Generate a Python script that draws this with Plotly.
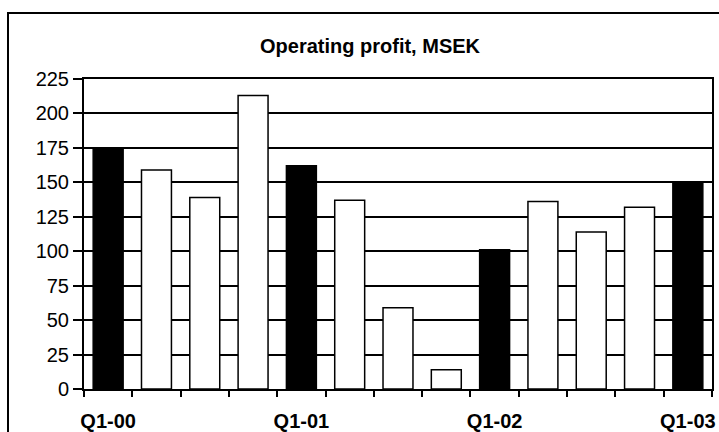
import plotly.graph_objects as go

quarters = ["Q1-00", "Q2-00", "Q3-00", "Q4-00",
            "Q1-01", "Q2-01", "Q3-01", "Q4-01",
            "Q1-02", "Q2-02", "Q3-02", "Q4-02",
            "Q1-03"]
profit = [175, 159, 139, 213, 162, 137, 59, 14, 101, 136, 114, 132, 150]
tick_labels = [q if q.startswith("Q1") else "" for q in quarters]
y_ticks = [0, 25, 50, 75, 100, 125, 150, 175, 200, 225]

colors = ["black" if q.startswith("Q1") else "white" for q in quarters]

W, H = 719, 432
L, R, T, B = 84, 7, 79, 43
pw, ph = W - L - R, H - T - B

fig = go.Figure(go.Bar(
    x=quarters, y=profit,
    marker=dict(color=colors, line=dict(color="black", width=1.5)),
    hoverinfo="x+y",
))

font = "Liberation Sans, Arial, sans-serif"

fig.update_layout(
    width=W, height=H,
    margin=dict(l=L, r=R, t=T, b=B, autoexpand=False),
    paper_bgcolor="white", plot_bgcolor="white",
    bargap=0.38,
    showlegend=False,
    font=dict(family=font, color="black"),
    title=dict(text="<b>Operating profit, MSEK</b>",
               font=dict(size=20, family=font, color="black"),
               x=370 / W, xref="container", xanchor="center",
               y=1 - 46 / H, yref="container", yanchor="middle"),
    xaxis=dict(
        type="category",
        tickmode="array", tickvals=quarters, ticktext=tick_labels,
        tickson="boundaries", tickangle=0, automargin=False,
        ticks="outside", ticklen=6, tickwidth=1.5, tickcolor="black",
        ticklabelstandoff=13,
        showline=True, linewidth=2, linecolor="black", mirror=True,
        showgrid=False,
        tickfont=dict(size=20, family=font, color="black", weight="bold"),
        range=[-0.5, len(quarters) - 0.5],
    ),
    yaxis=dict(
        range=[0, 225], automargin=False,
        tickmode="array", tickvals=y_ticks,
        ticks="outside", ticklen=9, tickwidth=1.5, tickcolor="black",
        showline=True, linewidth=2, linecolor="black", mirror=True,
        showgrid=True, gridcolor="black", gridwidth=1.5,
        zeroline=False,
        tickfont=dict(size=20, family=font, color="black"),
    ),
)

# outer chart frame
fig.add_shape(type="rect", xref="paper", yref="paper",
              x0=(8 - L) / pw, x1=(730 - L) / pw,
              y0=(H - B - 445) / ph, y1=(H - B - 13) / ph,
              line=dict(color="black", width=2), fillcolor="rgba(0,0,0,0)",
              layer="above")

fig.write_html("out.html",
               config={"displayModeBar": False},
               post_script="document.body.style.margin='0';document.body.style.overflow='hidden';")
